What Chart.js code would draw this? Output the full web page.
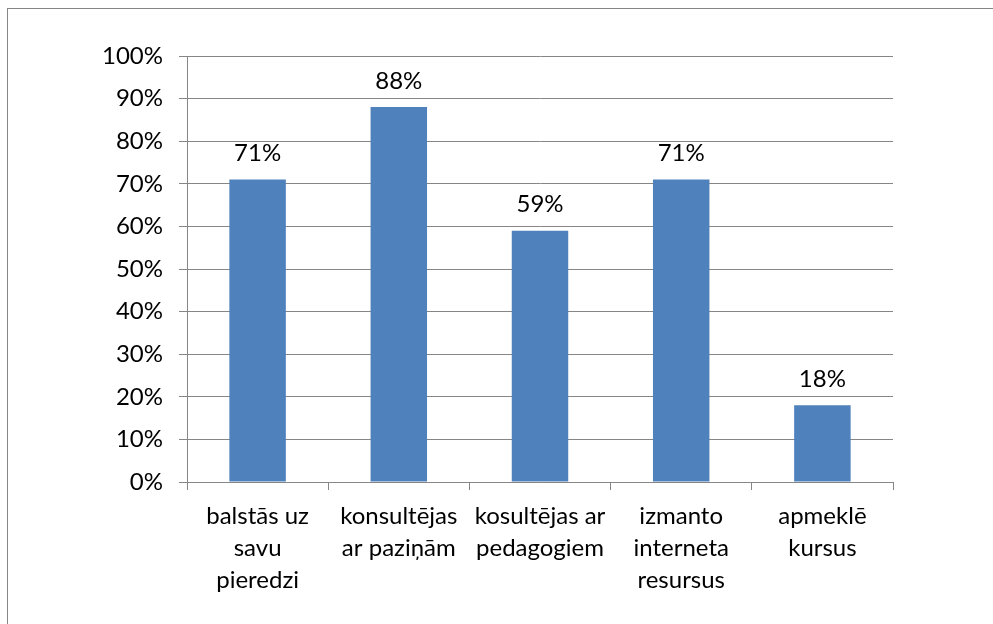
<!DOCTYPE html>
<html>
<head>
<meta charset="utf-8">
<script src="https://cdn.jsdelivr.net/npm/chart.js@4"></script>
<style>
  html, body { margin: 0; padding: 0; background: #fff; }
  #wrap { position: relative; width: 993px; height: 624px; }
  #frame { position: absolute; left: 7px; top: 8px; right: -5px; bottom: -5px;
           border-left: 1px solid #868686; border-top: 1px solid #868686; }
  canvas { position: absolute; left: 0; top: 0; }
</style>
</head>
<body>
<div id="wrap">
  <div id="frame"></div>
  <canvas id="chart" width="993" height="624"></canvas>
</div>
<script>
const categories = [
    ['balstās uz', 'savu', 'pieredzi'],
    ['konsultējas', 'ar paziņām'],
    ['kosultējas ar', 'pedagogiem'],
    ['izmanto', 'interneta', 'resursus'],
    ['apmeklē', 'kursus']
];
const values = [71, 88, 59, 71, 18];

const FONT = 'Lato, "Liberation Sans", sans-serif';
const GRID = '#868686';

const barLabels = {
    id: 'barLabels',
    afterDatasetsDraw(chart) {
        const ctx = chart.ctx;
        const meta = chart.getDatasetMeta(0);
        ctx.save();
        ctx.font = '24px ' + FONT;
        ctx.fillStyle = '#000';
        ctx.textAlign = 'center';
        ctx.textBaseline = 'middle';
        meta.data.forEach((bar, i) => {
            ctx.fillText(values[i] + '%', bar.x, bar.y - 26);
        });
        ctx.restore();
    }
};

new Chart(document.getElementById('chart'), {
    type: 'bar',
    data: {
        labels: categories,
        datasets: [{
            data: values,
            backgroundColor: '#4F81BD',
            borderWidth: 0,
            barPercentage: 0.4,
            categoryPercentage: 1
        }]
    },
    options: {
        responsive: false,
        animation: false,
        layout: { padding: { left: 0, top: 56, right: 100, bottom: 0 } },
        plugins: {
            legend: { display: false },
            tooltip: { enabled: false }
        },
        scales: {
            x: {
                grid: { drawOnChartArea: false, offset: true, color: GRID, tickLength: 8 },
                border: { color: GRID },
                ticks: { color: '#000', padding: 10, maxRotation: 0, autoSkip: false,
                         font: { family: FONT, size: 24, lineHeight: 1.33 } },
                afterFit(scale) { scale.height = 142; }
            },
            y: {
                min: 0,
                max: 100,
                grid: { color: GRID, tickLength: 8 },
                border: { color: GRID },
                ticks: { stepSize: 10, color: '#000', padding: 16,
                         font: { family: FONT, size: 24 },
                         callback: v => v + '%' },
                afterFit(scale) { scale.width = 187; }
            }
        }
    },
    plugins: [barLabels]
});
</script>
</body>
</html>
